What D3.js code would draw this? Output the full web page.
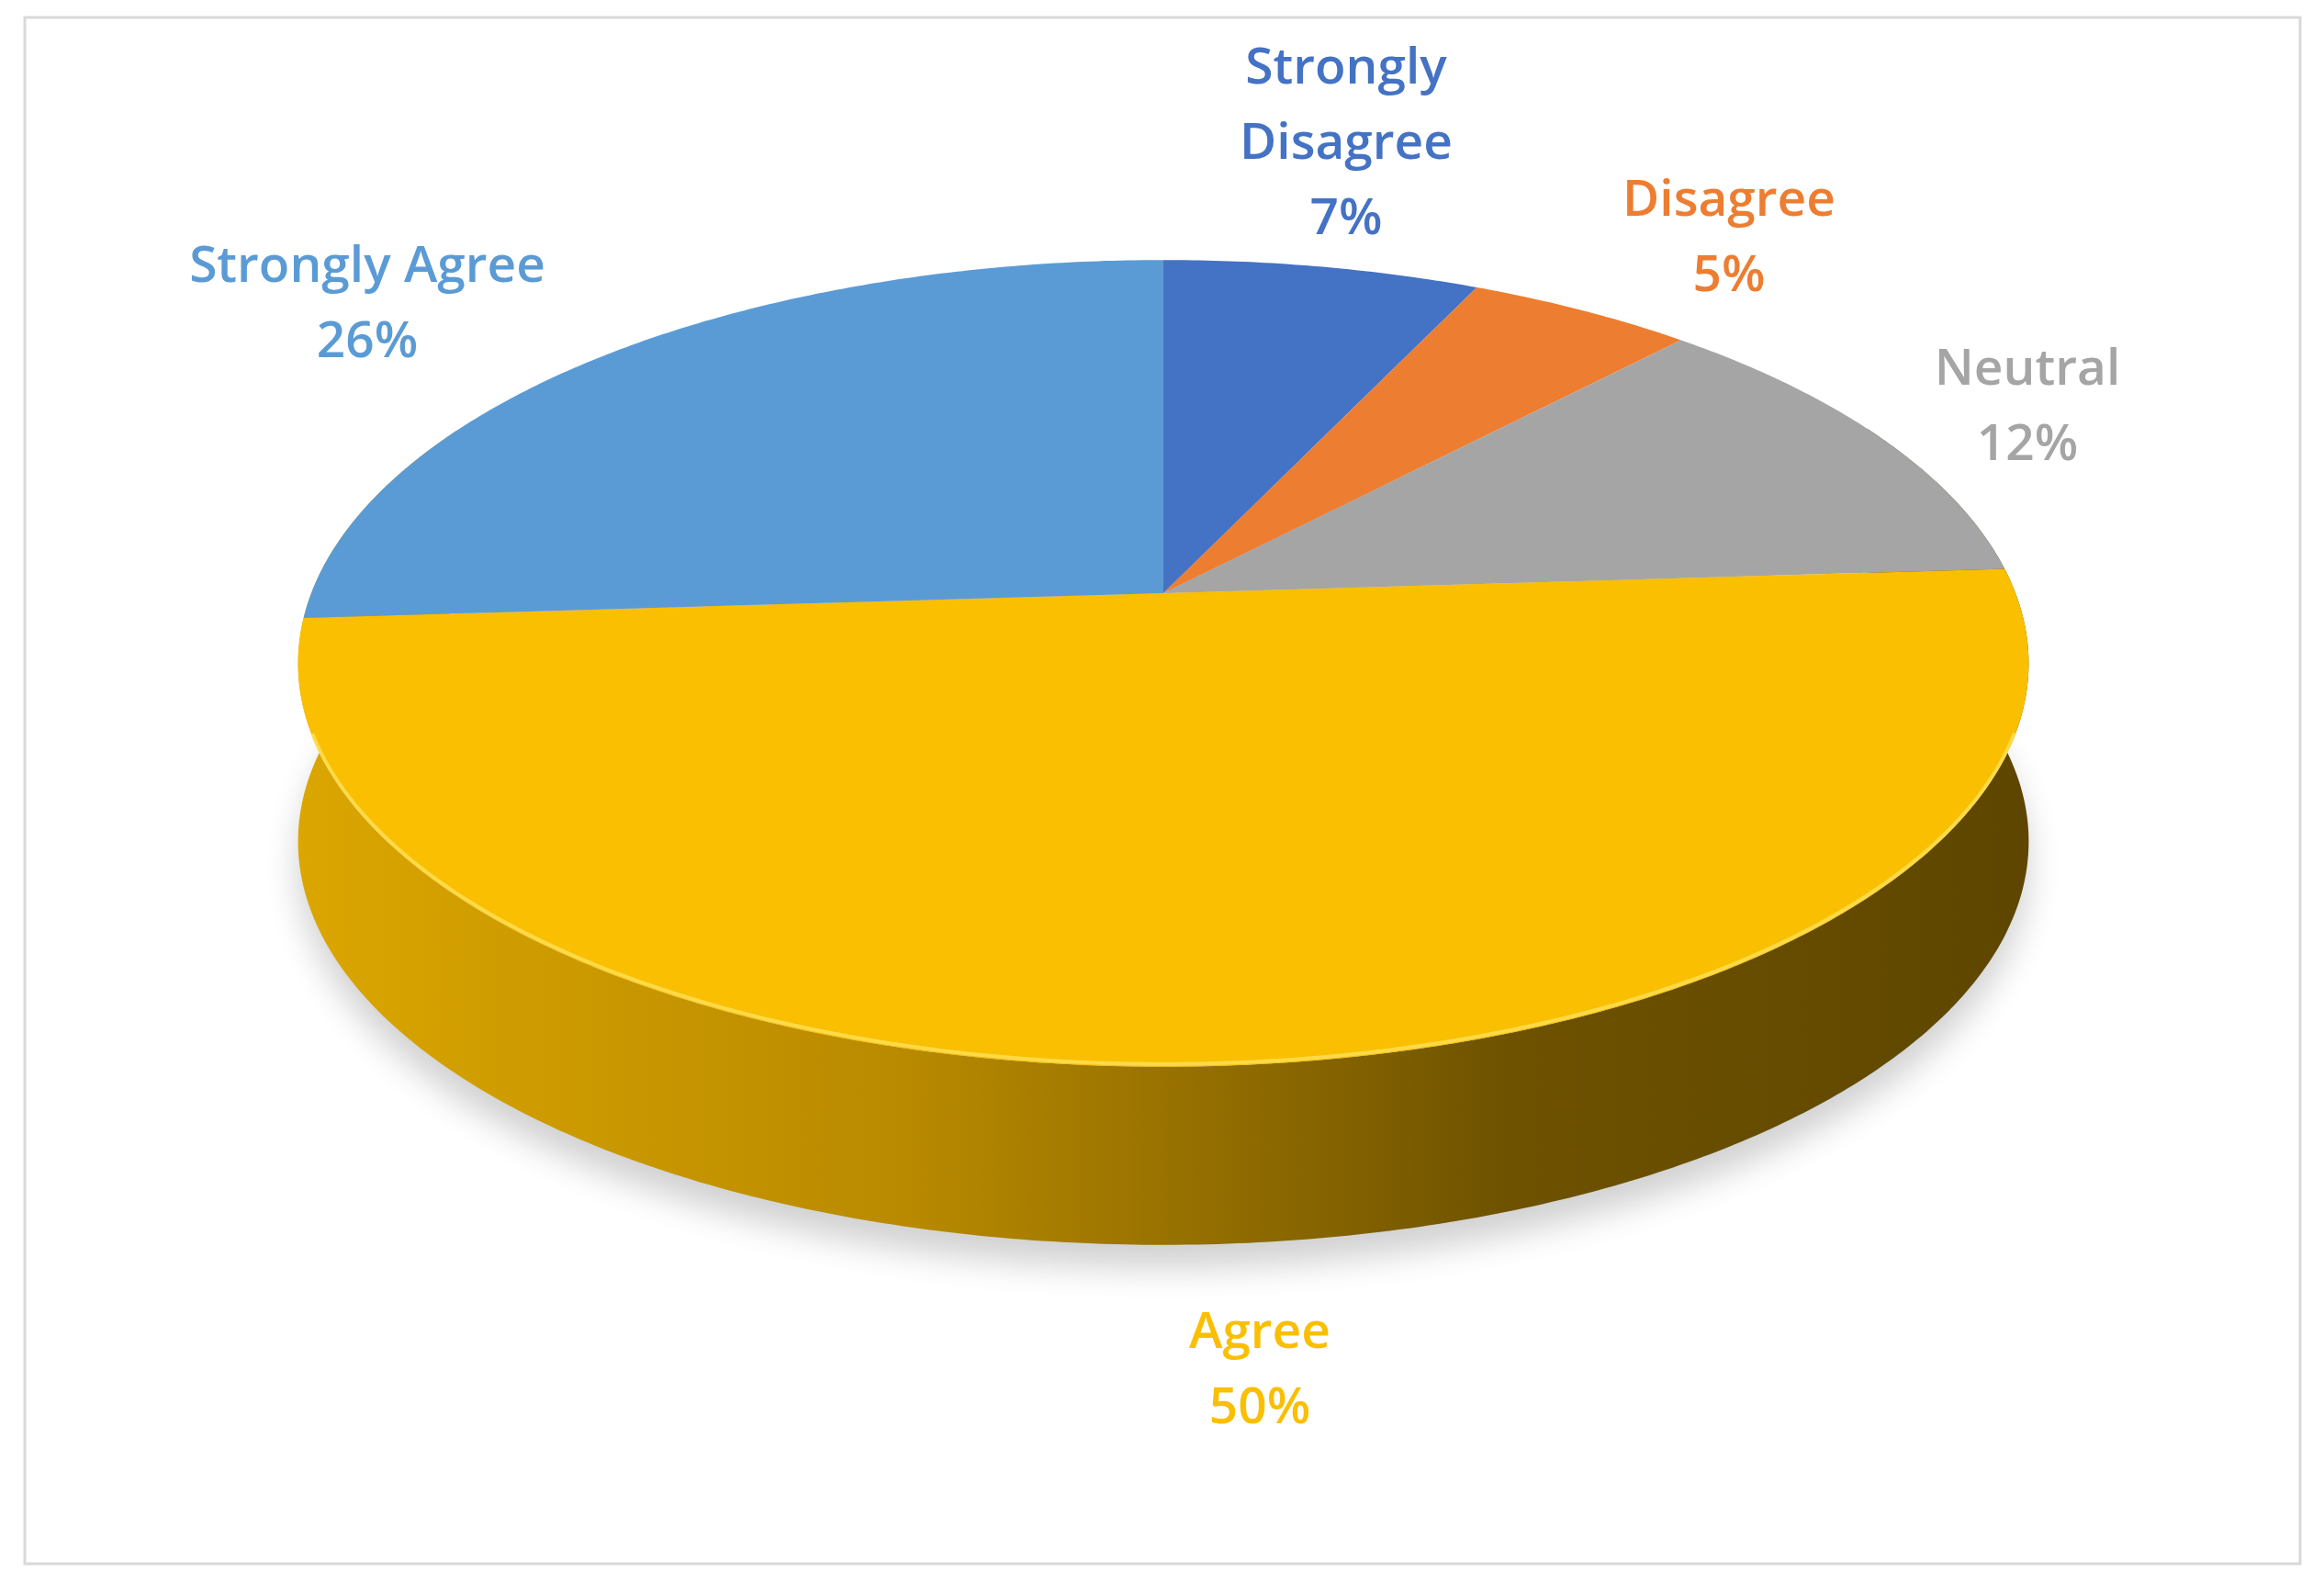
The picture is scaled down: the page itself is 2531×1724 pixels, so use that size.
<!DOCTYPE html>
<html>
<head>
<meta charset="utf-8">
<script src="https://cdn.jsdelivr.net/npm/d3@7"></script>
<style>body{margin:0;background:#fff}</style>
</head>
<body>
<div id="chart"></div>
<script>
let categories = ["Strongly Disagree", "Disagree", "Neutral", "Agree", "Strongly Agree"];
let values = [7, 5, 12, 50, 26];
let colors = ["#4472C4", "#ED7D31", "#A5A5A5", "#F9BF00", "#5B9BD5"];
// label lines as they appear next to each slice
let labelLines = [["Strongly", "Disagree", "7%"], ["Disagree", "5%"], ["Neutral", "12%"], ["Agree", "50%"], ["Strongly Agree", "26%"]];
let labelPos = [[1466, 76], [1883, 220], [2208, 404], [1372, 1453], [400, 292]];

let width = 2531, height = 1724;
let cx = 1267, cy = 646, rx = 928, ry = 426, k = 0.174, depth = 194;

let svg = d3.select('#chart').append('svg')
    .attr('width', width).attr('height', height);

let defs = svg.append('defs');
let grad = defs.append('linearGradient').attr('id', 'side');
grad.append('stop').attr('offset', '0%').attr('stop-color', '#dba600');
grad.append('stop').attr('offset', '35%').attr('stop-color', '#b98a00');
grad.append('stop').attr('offset', '70%').attr('stop-color', '#6e5200');
grad.append('stop').attr('offset', '100%').attr('stop-color', '#5e4600');
defs.append('filter').attr('id', 'blur')
    .attr('x', '-20%').attr('y', '-20%').attr('width', '140%').attr('height', '140%')
    .append('feGaussianBlur').attr('stdDeviation', 18);

//chart border
svg.append('rect').attr('x', 27).attr('y', 19).attr('width', 2478).attr('height', 1684)
    .attr('fill', 'none').attr('stroke', '#d9d9d9').attr('stroke-width', 3);

//point on the tilted disc (simple perspective), angle clockwise from top
let pt = (a, dy = 0) => {
    let v = -Math.cos(a), p = 1 / (1 - k * v);
    return [cx + rx * Math.sin(a) * p, cy + ry * v * p + dy];
};
let ring = (a0, a1, dy = 0) => d3.range(a0, a1 + 0.001, 0.01).map(a => pt(a, dy));

//soft shadow under the pie
svg.append('path')
    .attr('d', d3.line()(ring(0, 2 * Math.PI, depth + 25)) + 'Z')
    .attr('fill', '#000').attr('opacity', 0.18).attr('filter', 'url(#blur)');

//visible side wall (front half, a bit wider to cover the silhouette)
let sidePts = ring(0.35 * Math.PI, 1.65 * Math.PI);
let lowPts = sidePts.slice().reverse().map(p => [p[0], p[1] + depth]);
svg.append('path')
    .attr('d', d3.line()(sidePts.concat(lowPts)) + 'Z')
    .attr('fill', 'url(#side)');

//top faces
let arcs = d3.pie().sort(null).value(d => d)(values);
svg.selectAll('.slice').data(arcs).join('path')
    .attr('class', 'slice')
    .attr('fill', (d, i) => colors[i])
    .attr('d', d => {
        let steps = Math.max(2, Math.ceil((d.endAngle - d.startAngle) / 0.01));
        let pts = d3.range(steps + 1).map(j => pt(d.startAngle + (d.endAngle - d.startAngle) * j / steps));
        return 'M' + cx + ',' + cy + 'L' + pts.map(p => p.join(',')).join('L') + 'Z';
    });

//bright rim highlight along the front edge
svg.append('path').attr('d', d3.line()(ring(Math.PI / 2 + 0.35, 3 * Math.PI / 2 - 0.35, -3)))
    .attr('fill', 'none').attr('stroke', '#ffe566').attr('stroke-width', 4).attr('opacity', 0.7);

//labels
let lab = svg.selectAll('.lab').data(arcs).join('text')
    .attr('class', 'lab')
    .attr('font-family', '"Open Sans", sans-serif')
    .attr('font-weight', 600)
    .attr('font-size', 55)
    .attr('text-anchor', 'middle')
    .attr('fill', (d, i) => colors[i]);
lab.each(function (d, i) {
    d3.select(this).selectAll('tspan').data(labelLines[i]).join('tspan')
        .attr('x', labelPos[i][0])
        .attr('y', (t, j) => labelPos[i][1] + j * 82)
        .attr('dominant-baseline', 'middle')
        .text(t => t);
});
</script>
</body>
</html>
